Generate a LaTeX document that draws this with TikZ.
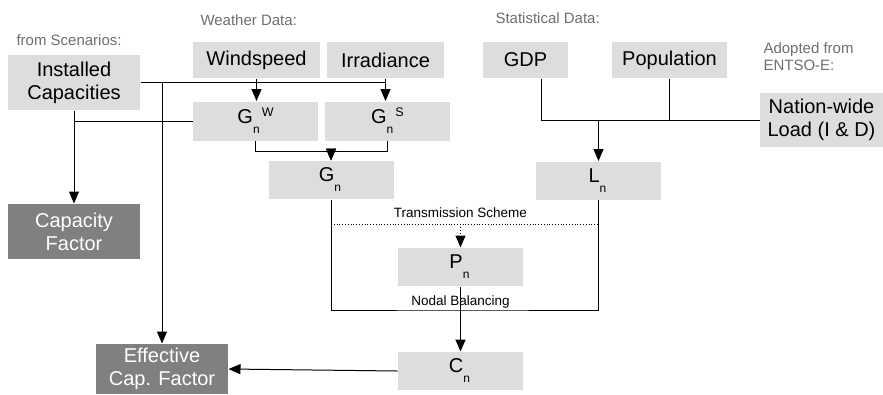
\documentclass[tikz,border=0pt]{standalone}
\usepackage{fontspec}
\setmainfont{Liberation Sans}
\usetikzlibrary{arrows.meta}

\definecolor{boxfill}{HTML}{DDDDDD}
\definecolor{capfill}{HTML}{808080}
\definecolor{notetext}{HTML}{6E6E6E}

\newcommand{\nsub}[2]{#1\raisebox{-10pt}{\fontsize{12}{12}\selectfont n}\raisebox{7pt}{\fontsize{12.5}{12.5}\selectfont\,#2}}

\tikzset{
  box/.style={fill=boxfill, minimum width=125pt, minimum height=38pt, inner sep=0pt, align=center, font=\fontsize{20}{23}\selectfont},
  capbox/.style={box, fill=capfill, text=white, minimum width=132pt, minimum height=55pt},
  note/.style={text=notetext, anchor=west, align=left, inner sep=0pt, font=\fontsize{15}{17}\selectfont},
  small/.style={inner sep=0pt, font=\fontsize{13.5}{15}\selectfont},
  arr/.style={-{Triangle[length=12pt,width=10pt]}},
}

\begin{document}
\begin{tikzpicture}[x=1pt,y=-1pt,line width=1pt]
        \useasboundingbox (0,0) rectangle (883,394);

        \node[note] (scen) at (16,40) {from Scenarios:};
        \node[note] (weather) at (200,20) {Weather Data:};
        \node[note] (stat) at (495,18) {Statistical Data:};
        \node[note] (entso) at (763,57) {Adopted from\\ENTSO-E:};

        \node[box,minimum width=132pt,minimum height=55pt] (inst) at (74,82.5) {Installed\\Capacities};
        \node[box,minimum width=127pt,minimum height=36pt] (wind) at (256.5,60) {Windspeed};
        \node[box,minimum width=117pt,minimum height=36pt] (irr) at (385.5,60) {Irradiance};
        \node[box,minimum width=85pt,minimum height=36pt] (gdp) at (525.5,60) {GDP};
        \node[box,minimum width=115pt,minimum height=36pt] (pop) at (669.5,60) {Population};
        \node[box,minimum width=123pt,minimum height=54pt] (load) at (821.5,120) {Nation-wide\\Load (I \& D)};

        \node[box,minimum height=39pt] (gw) at (255.5,121) {\nsub{G}{W}};
        \node[box,minimum height=39pt] (gs) at (387.5,121) {\nsub{G}{S}};
        \node[box] (gn) at (331,180) {\nsub{G}{}};
        \node[box] (ln) at (598.5,180.5) {\nsub{L}{}};
        \node[box] (pn) at (460.5,267) {\nsub{P}{}};
        \node[box] (cn) at (460.5,371) {\nsub{C}{}};

        \node[capbox] (cf) at (74,231.5) {Capacity\\Factor};
        \node[capbox,minimum height=50pt] (ecf) at (162,369) {Effective\\Cap. Factor};

        \coordinate (gmid) at (331,151);
        \coordinate (ts) at (460.5,224);
        \coordinate (nb) at (460.5,310);

        \draw (inst.east) -- (inst.east -| irr.south);
        \draw[arr] (inst.east -| ecf.north) -- (ecf.north);
        \draw[arr] (inst.south) -- (cf.north);
        \draw (gw.west) -- (gw.west -| inst.south);
        \draw[arr] (wind.south) -- (wind.south |- gw.north);
        \draw[arr] (irr.south) -- (irr.south |- gs.north);
        \draw[arr] (gw.south) |- (gmid) -- (gn.north);
        \draw[arr] (gs.south) |- (gmid) -- (gn.north);

        \draw (gn.south) |- (nb) -| (ln.south);
        \draw[dotted,line width=0.8pt] (gn.south |- ts) -- (ln.south |- ts);
        \node[small,anchor=base] (tslabel) at (460.5,217) {Transmission Scheme};
        \node[small,anchor=base] (nblabel) at (460.5,305) {Nodal Balancing};
        \draw[arr,dotted] (ts) -- (pn.north);
        \draw[arr,line width=1.6pt] (pn.south) -- (cn.north);
        \draw[arr] (cn.west) -- (ecf.east);

        \draw ([xshift=15.5pt]gdp.south) |- (load.west);
        \draw (pop.south) -- (pop.south |- load.west);
        \draw[arr] (ln.north |- load.west) -- (ln.north);
    \end{tikzpicture}
\end{document}
